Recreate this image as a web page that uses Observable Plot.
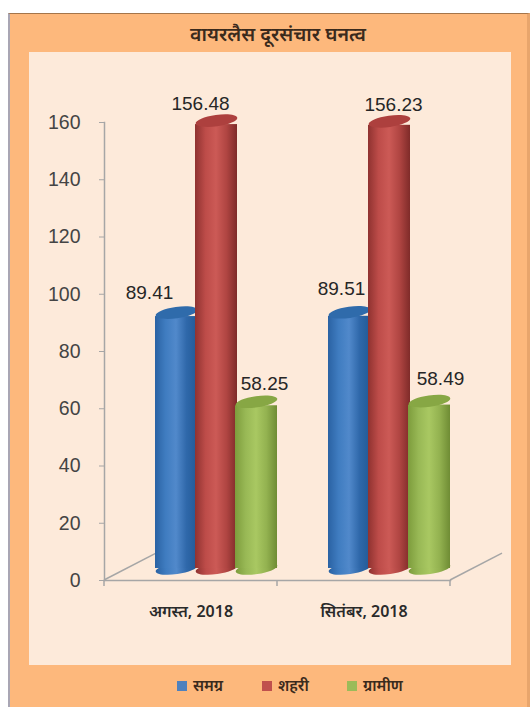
<!DOCTYPE html>
<html lang="hi">
<head>
<meta charset="utf-8">
<script src="https://cdn.jsdelivr.net/npm/d3@7"></script>
<script src="https://cdn.jsdelivr.net/npm/@observablehq/plot@0.6"></script>
<style>
  html, body { margin: 0; padding: 0; background: #fff; }
  #page { position: relative; width: 530px; height: 707px; overflow: hidden; }
  #frame { position: absolute; left: 8px; top: 13px; right: 0; bottom: 0; background: #fdb87c;
           border-top: 1px solid #a4754a; border-left: 2px solid #a9a6b4; border-right: 3px solid #e8a56c; box-sizing: border-box; }
  #panel { position: absolute; left: 29px; top: 52px; width: 482px; height: 613px; background: #fdeada; }
  #title { position: absolute; left: 17px; width: 522px; top: 20px; text-align: center;
           font: 600 19.5px "Noto Sans", "Liberation Sans", sans-serif; line-height: 28px; color: #3a2a1c; }
  #legend { position: absolute; top: 676px; left: 0; height: 18px;
            font: 600 15.5px "Noto Sans", "Liberation Sans", sans-serif; color: #3a2a1c; }
  #legend span { position: absolute; top: 0; white-space: nowrap; line-height: 18px; }
  #legend i { display: inline-block; width: 10px; height: 10px; margin-right: 6px; vertical-align: 0; }
  #chart { position: absolute; left: 0; top: 0; }
</style>
</head>
<body>
<div id="page">
  <div id="frame"></div>
  <div id="panel"></div>
  <div id="title"></div>
  <div id="chart"></div>
  <div id="legend"></div>
</div>
<script>
// ---------- data ----------
const titleText = "वायरलैस दूरसंचार घनत्व";
const months = ["अगस्त, 2018", "सितंबर, 2018"];
const seriesNames = ["समग्र", "शहरी", "ग्रामीण"];
const samagra = [89.41, 89.51];
const shahari = [156.48, 156.23];
const gramin = [58.25, 58.49];
const yTicks = [0, 20, 40, 60, 80, 100, 120, 140, 160];

// ---------- styling ----------
const seriesValues = [samagra, shahari, gramin];
const bodyStops = [
  ["#2a62a3", "#3f7cc0", "#5189cb", "#2f68aa", "#235a96"],
  ["#8f3230", "#bd4c49", "#cc5a56", "#b04542", "#7f2b29"],
  ["#7d9c3c", "#98b855", "#a9c862", "#93b250", "#6f8c34"]
];
const capFill = ["#2f6bab", "#ad403e", "#87a744"];
const legendColor = ["#4f81bd", "#c0504d", "#9bbb59"];
const legendX = [177, 262, 347];
const labelNudge = [
  [[-27, -32], [-8, -35]],
  [[-16, -29], [4, -28]],
  [[8, -30], [11, -34]]
];
const depthX = 25, depthY = -12, textColor = "#262626";

const rows = seriesNames.flatMap((s, i) => months.map((m, j) => ({
  month: m, series: s, value: seriesValues[i][j], si: i, mi: j
})));

// Tilted ellipse: the visible end of a cylinder seen from above
const tiltedEnd = {
  draw(ctx, size) {
    const a = Math.sqrt(size / Math.PI), b = a * 0.27, t = -0.14, k = 0.5523;
    const c = Math.cos(t), s = Math.sin(t);
    const P = (x, y) => [x * c - y * s, x * s + y * c];
    const seg = (p1, p2, p3) => ctx.bezierCurveTo(...P(...p1), ...P(...p2), ...P(...p3));
    ctx.moveTo(...P(a, 0));
    seg([a, k * b], [k * a, b], [0, b]);
    seg([-k * a, b], [-a, k * b], [-a, 0]);
    seg([-a, -k * b], [-k * a, -b], [0, -b]);
    seg([k * a, -b], [a, -k * b], [a, 0]);
    ctx.closePath();
  }
};

const cylinderMarks = seriesNames.flatMap((s, i) => {
  const d = rows.filter(r => r.si === i);
  const common = { fx: "month", x: "series", dx: depthX, dy: depthY };
  return [
    Plot.dot(d, { ...common, y: () => 0, symbol: tiltedEnd, r: 21, fill: `url(#cyl${i})`, stroke: "none" }),
    Plot.barY(d, { ...common, y: "value", fill: `url(#cyl${i})`, insetTop: 4, insetLeft: -1, insetRight: -1 }),
    Plot.dot(d, { ...common, y: "value", symbol: tiltedEnd, r: 21, fill: capFill[i], stroke: "none" })
  ];
});

const labelMarks = rows.map(r => Plot.text([r], {
  fx: "month", x: "series", y: "value", text: d => d.value.toFixed(2),
  dx: depthX + labelNudge[r.si][r.mi][0], dy: labelNudge[r.si][r.mi][1],
  fontSize: 19, fill: textColor, fontFamily: "Liberation Sans, sans-serif"
}));

const chart = Plot.plot({
  width: 530, height: 707,
  marginLeft: 104, marginRight: 80, marginTop: 122, marginBottom: 127,
  style: { background: "transparent", overflow: "visible" },
  fx: { domain: months, paddingInner: 0, paddingOuter: 0, label: null, axis: null },
  x: { domain: seriesNames, paddingInner: 0, paddingOuter: 0.66, axis: null },
  y: { domain: [0, 160], label: null, axis: null },
  marks: [
    Plot.frame({ anchor: "left", stroke: "#a6a6a6", strokeWidth: 1.5, facet: "super" }),
    Plot.frame({ anchor: "bottom", stroke: "#a6a6a6", strokeWidth: 1.5, facet: "super" }),
    Plot.axisY({
      ticks: yTicks, tickSize: 5, tickPadding: 19, label: null, stroke: "#a6a6a6",
      fontSize: 19.5, fill: "#444", fontFamily: "Liberation Sans, sans-serif"
    }),
    Plot.axisFx({
      anchor: "bottom", tickSize: 0, tickPadding: 25, label: null, fontSize: 16, fontWeight: 600,
      fill: "#2a2a2a", fontFamily: "Noto Sans, Liberation Sans, sans-serif"
    }),
    ...cylinderMarks,
    ...labelMarks
  ]
});
document.getElementById("chart").append(chart);

// Gradients and floor decoration, placed through the plot's own scales
const svg = d3.select(chart);
const defs = svg.insert("defs", ":first-child");
bodyStops.forEach((stops, i) => {
  const g = defs.append("linearGradient").attr("id", `cyl${i}`);
  stops.forEach((c, k) => g.append("stop").attr("offset", k / (stops.length - 1)).attr("stop-color", c));
});
const fx = chart.scale("fx"), y = chart.scale("y");
const edges = [...months.map(m => fx.apply(m)), fx.apply(months[1]) + fx.bandwidth];
const decor = svg.append("g").attr("stroke", "#a6a6a6").attr("stroke-width", 1.5).attr("fill", "none");
edges.forEach(e => decor.append("line").attr("x1", e).attr("x2", e).attr("y1", y.apply(0)).attr("y2", y.apply(0) + 6));
[edges[0], edges[2]].forEach(e => decor.append("line")
  .attr("x1", e).attr("y1", y.apply(0)).attr("x2", e + 52).attr("y2", y.apply(9.4)));
decor.lower();

// Title and legend as HTML
document.getElementById("title").textContent = titleText;
const legend = d3.select("#legend");
seriesNames.forEach((s, i) => {
  const item = legend.append("span").style("left", legendX[i] + "px");
  item.append("i").style("background", legendColor[i]);
  item.append("text").text(s);
});
</script>
</body>
</html>
